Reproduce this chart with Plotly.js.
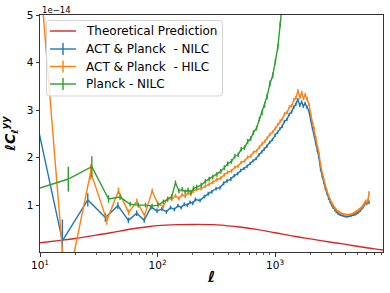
<!DOCTYPE html>
<html>
<head>
<meta charset="utf-8">
<script src="https://cdn.plot.ly/plotly-3.0.1.min.js"></script>
<style>html,body{margin:0;padding:0;background:#fff;}#chart{width:390px;height:293px;}</style>
</head>
<body>
<div id="chart"></div>
<script>
// ---- data (values in units of 1e-14) ----
const ell_theory = [10, 15, 20, 30, 40, 60, 80, 100, 150, 200, 300, 400, 500, 700, 1000, 1500, 2000, 3000, 4000, 5000, 6000, 7000, 8500];
const cl_theory  = [0.21, 0.26, 0.30, 0.37, 0.42, 0.50, 0.54, 0.57, 0.59, 0.595, 0.59, 0.565, 0.54, 0.49, 0.42, 0.34, 0.29, 0.22, 0.175, 0.135, 0.105, 0.08, 0.055];

const ell_act_nilc = [5, 15.5, 25.5, 36, 46, 56.5, 66.5, 77, 88, 99,
  109, 119, 129, 139, 149, 159, 169, 179, 189, 199,
  210, 230, 250, 270, 290, 315, 340, 365, 390, 420,
  450, 480, 510, 545, 580, 615, 650, 690, 730, 770,
  810, 850, 900, 950, 1000, 1050, 1100, 1150, 1200, 1260,
  1320, 1380, 1440, 1500, 1560, 1620, 1680, 1740, 1800, 1870,
  1940, 2010, 2080, 2150, 2220, 2290, 2360, 2440, 2520, 2600,
  2680, 2760, 2850, 2940, 3030, 3120, 3220, 3320, 3420, 3520,
  3620, 3730, 3840, 3950, 4060, 4180, 4300, 4420, 4540, 4660,
  4790, 4920, 5050, 5180, 5320, 5460, 5600, 5740, 5880, 6020,
  6160, 6300];
const cl_act_nilc = [5.9, 0.25, 1.11, 0.74, 0.99, 0.68, 0.83, 0.68, 0.96, 0.88,
  0.92, 0.86, 0.95, 0.91, 0.99, 0.95, 1.02, 1.0, 1.06, 1.04,
  1.12, 1.10, 1.18, 1.24, 1.28, 1.35, 1.37, 1.46, 1.51, 1.55,
  1.62, 1.66, 1.73, 1.77, 1.82, 1.88, 1.93, 1.98, 2.06, 2.12,
  2.18, 2.24, 2.32, 2.38, 2.47, 2.53, 2.61, 2.66, 2.76, 2.8,
  2.91, 2.96, 3.06, 3.12, 3.22, 3.1, 3.17, 3.08, 3.14, 3.06,
  2.98, 2.78, 2.62, 2.5, 2.3, 2.15, 2.0, 1.75, 1.6, 1.47,
  1.35, 1.25, 1.14, 1.07, 1.0, 0.95, 0.9, 0.86, 0.83, 0.81,
  0.79, 0.78, 0.77, 0.76, 0.76, 0.76, 0.77, 0.77, 0.79, 0.79,
  0.81, 0.83, 0.84, 0.87, 0.89, 0.93, 0.96, 1.0, 1.05, 1.03,
  1.08, 1.06];
const err_act_nilc = [1.2, 0.45, 0.14, 0.09, 0.07, 0.06, 0.06, 0.05, 0.05, 0.05,
  0.04, 0.04, 0.04, 0.04, 0.04, 0.04, 0.04, 0.04, 0.04, 0.04,
  0.04, 0.04, 0.04, 0.04, 0.04, 0.04, 0.04, 0.04, 0.04, 0.04,
  0.035, 0.035, 0.035, 0.035, 0.035, 0.035, 0.035, 0.035, 0.035, 0.035,
  0.035, 0.035, 0.035, 0.035, 0.035, 0.035, 0.035, 0.035, 0.035, 0.035,
  0.035, 0.035, 0.035, 0.035, 0.035, 0.035, 0.035, 0.035, 0.035, 0.035,
  0.03, 0.03, 0.03, 0.03, 0.03, 0.03, 0.03, 0.03, 0.03, 0.03,
  0.03, 0.03, 0.03, 0.03, 0.03, 0.03, 0.03, 0.03, 0.03, 0.03,
  0.02, 0.02, 0.02, 0.02, 0.02, 0.02, 0.02, 0.02, 0.02, 0.02,
  0.03, 0.03, 0.03, 0.03, 0.03, 0.03, 0.03, 0.03, 0.03, 0.03,
  0.04, 0.04];

const ell_act_hilc = [5.4, 16.6, 27, 37, 46.5, 56.7, 66.7, 77.5, 90, 100.5,
  112, 122, 132, 142, 152, 162, 172, 182, 192, 202,
  215, 235, 255, 275, 295, 320, 345, 370, 395, 425,
  455, 485, 515, 550, 585, 620, 655, 695, 735, 775,
  815, 855, 905, 955, 1005, 1055, 1105, 1155, 1205, 1265,
  1325, 1385, 1445, 1505, 1565, 1625, 1685, 1745, 1805, 1875,
  1945, 2015, 2085, 2155, 2225, 2295, 2365, 2445, 2525, 2605,
  2685, 2765, 2855, 2945, 3035, 3125, 3225, 3325, 3425, 3525,
  3625, 3735, 3845, 3955, 4065, 4185, 4305, 4425, 4545, 4665,
  4795, 4925, 5055, 5185, 5325, 5465, 5605, 5745, 5885, 6025,
  6165, 6305];
const cl_act_hilc = [14, -0.85, 1.7, 0.68, 1.3, 0.85, 1.08, 0.78, 1.3, 1.03,
  0.97, 1.15, 1.12, 1.2, 1.14, 1.22, 1.19, 1.26, 1.23, 1.3,
  1.33, 1.35, 1.4, 1.44, 1.48, 1.54, 1.57, 1.64, 1.69, 1.72,
  1.8, 1.82, 1.9, 1.93, 2.01, 2.03, 2.11, 2.14, 2.22, 2.29,
  2.34, 2.41, 2.49, 2.54, 2.62, 2.7, 2.77, 2.82, 2.92, 2.95,
  3.07, 3.09, 3.22, 3.26, 3.41, 3.26, 3.37, 3.24, 3.33, 3.24,
  3.12, 2.9, 2.72, 2.62, 2.42, 2.22, 2.08, 1.82, 1.66, 1.53,
  1.4, 1.3, 1.19, 1.11, 1.05, 0.99, 0.94, 0.9, 0.87, 0.85,
  0.83, 0.82, 0.81, 0.8, 0.8, 0.8, 0.8, 0.81, 0.82, 0.83,
  0.85, 0.87, 0.88, 0.91, 0.93, 0.96, 0.99, 1.03, 1.09, 1.06,
  1.1, 1.26];
const err_act_hilc = [2.0, 0.5, 0.16, 0.09, 0.07, 0.06, 0.06, 0.05, 0.05, 0.05,
  0.04, 0.04, 0.04, 0.04, 0.04, 0.04, 0.04, 0.04, 0.04, 0.04,
  0.04, 0.04, 0.04, 0.04, 0.04, 0.04, 0.04, 0.04, 0.04, 0.04,
  0.035, 0.035, 0.035, 0.035, 0.035, 0.035, 0.035, 0.035, 0.035, 0.035,
  0.035, 0.035, 0.035, 0.035, 0.035, 0.035, 0.035, 0.035, 0.035, 0.035,
  0.035, 0.035, 0.035, 0.035, 0.035, 0.035, 0.035, 0.035, 0.035, 0.035,
  0.03, 0.03, 0.03, 0.03, 0.03, 0.03, 0.03, 0.03, 0.03, 0.03,
  0.03, 0.03, 0.03, 0.03, 0.03, 0.03, 0.03, 0.03, 0.03, 0.03,
  0.02, 0.02, 0.02, 0.02, 0.02, 0.02, 0.02, 0.02, 0.02, 0.02,
  0.03, 0.03, 0.03, 0.03, 0.03, 0.03, 0.03, 0.03, 0.03, 0.03,
  0.04, 0.04];

const ell_planck_nilc = [6.6, 17.4, 27.6, 38.3, 48, 58.5, 68.5, 79, 90, 101,
  112, 122, 132, 142, 152, 162, 172, 182, 192, 202,
  215, 235, 255, 275, 295, 320, 345, 370, 395, 425,
  455, 485, 515, 550, 585, 620, 655, 695, 735, 775,
  815, 855, 905, 955, 1005, 1055, 1105, 1155, 1205, 1265,
  1325, 1385];
const cl_planck_nilc = [1.22, 1.55, 1.81, 1.13, 1.17, 1.02, 1.0, 1.0, 0.98, 1.0,
  1.07, 1.12, 1.18, 1.47, 1.3, 1.33, 1.28, 1.32, 1.27, 1.35,
  1.38, 1.42, 1.5, 1.55, 1.59, 1.65, 1.71, 1.79, 1.87, 1.92,
  2.03, 2.06, 2.18, 2.21, 2.34, 2.4, 2.53, 2.62, 2.81, 2.94,
  3.11, 3.29, 3.56, 3.73, 4.02, 4.33, 4.8, 5.2, 5.6, 6.1,
  6.7, 7.3];
const err_planck_nilc = [0.3, 0.26, 0.22, 0.08, 0.06, 0.05, 0.05, 0.05, 0.05, 0.05,
  0.05, 0.05, 0.05, 0.05, 0.05, 0.05, 0.05, 0.05, 0.05, 0.05,
  0.05, 0.05, 0.05, 0.05, 0.05, 0.05, 0.05, 0.05, 0.05, 0.05,
  0.05, 0.05, 0.05, 0.05, 0.05, 0.05, 0.05, 0.05, 0.05, 0.05,
  0.06, 0.06, 0.06, 0.06, 0.06, 0.06, 0.06, 0.06, 0.06, 0.06,
  0.06, 0.06];

const series_names = ['Theoretical Prediction', 'ACT & Planck\u00a0 - NILC', 'ACT & Planck\u00a0 - HILC', 'Planck - NILC'];
const x_tick_vals = [10, 100, 1000];
const x_tick_text = ['10<sup>1</sup>', '10<sup>2</sup>', '10<sup>3</sup>'];
const y_tick_vals = [1, 2, 3, 4, 5];

// ---- styling ----
const C_RED = '#d62728', C_BLUE = '#1f77b4', C_ORANGE = '#ff7f0e', C_GREEN = '#2ca02c';
const LW = 1.4;
const FONT = 'DejaVu Sans';
const W = 390, H = 293;
const M = {l: 40, r: 7, t: 15, b: 41};
const PW = W - M.l - M.r, PH = H - M.t - M.b;
const px = x => (x - M.l) / PW;         // pixel -> paper x
const py = y => (M.t + PH - y) / PH;    // pixel -> paper y

const minorVals = [];
for (let k = 1; k <= 3; k++) for (let m = 2; m <= 9; m++) minorVals.push(m * Math.pow(10, k));

function dataTrace(x, y, err, color) {
  return {
    x: x, y: y, type: 'scatter', mode: 'lines', showlegend: false,
    line: {color: color, width: LW},
    error_y: {type: 'data', array: err, visible: true, color: color, thickness: LW, width: 0},
    hoverinfo: 'skip'
  };
}

const traces = [
  {x: ell_theory, y: cl_theory, type: 'scatter', mode: 'lines', showlegend: false,
   line: {color: C_RED, width: LW, shape: 'spline'}},
  dataTrace(ell_act_nilc, cl_act_nilc, err_act_nilc, C_BLUE),
  dataTrace(ell_act_hilc, cl_act_hilc, err_act_hilc, C_ORANGE),
  dataTrace(ell_planck_nilc, cl_planck_nilc, err_planck_nilc, C_GREEN)
];

// ---- hand-built legend (box, line samples, error-bar crosses, labels) ----
const legColors = [C_RED, C_BLUE, C_ORANGE, C_GREEN];
const legRowsY = [31, 49, 66.5, 84];
const legendShapes = [];
const legendAnn = [];
(function () {
  const x0 = 46.5, x1 = 222.5, y0 = 20.5, y1 = 96, r = 3;
  const path = `M ${px(x0 + r)} ${py(y0)} L ${px(x1 - r)} ${py(y0)} Q ${px(x1)} ${py(y0)} ${px(x1)} ${py(y0 + r)} ` +
    `L ${px(x1)} ${py(y1 - r)} Q ${px(x1)} ${py(y1)} ${px(x1 - r)} ${py(y1)} L ${px(x0 + r)} ${py(y1)} ` +
    `Q ${px(x0)} ${py(y1)} ${px(x0)} ${py(y1 - r)} L ${px(x0)} ${py(y0 + r)} Q ${px(x0)} ${py(y0)} ${px(x0 + r)} ${py(y0)} Z`;
  legendShapes.push({type: 'path', xref: 'paper', yref: 'paper', path: path, layer: 'above',
    fillcolor: 'rgba(255,255,255,0.8)', line: {color: '#d3d3d3', width: 1}});
  series_names.forEach((name, i) => {
    const y = legRowsY[i];
    legendShapes.push({type: 'line', xref: 'paper', yref: 'paper', layer: 'above',
      x0: px(50), x1: px(76), y0: py(y), y1: py(y), line: {color: legColors[i], width: LW}});
    if (i > 0) {
      legendShapes.push({type: 'line', xref: 'paper', yref: 'paper', layer: 'above',
        x0: px(63), x1: px(63), y0: py(y - 6), y1: py(y + 6), line: {color: legColors[i], width: LW}});
    }
    legendAnn.push({text: name, xref: 'paper', yref: 'paper', x: px(83.5), y: py(y),
      xanchor: 'left', yanchor: 'middle', showarrow: false,
      font: {family: FONT, size: 12, color: '#000'}});
  });
})();

const axisCommon = {
  showline: true, mirror: true, linecolor: '#333', linewidth: 1,
  ticks: 'outside', ticklen: 3.5, tickwidth: 1, tickcolor: '#333',
  showgrid: false, zeroline: false,
  tickfont: {family: FONT, size: 10.5, color: '#000'}
};

const layout = {
  width: W, height: H,
  margin: {l: M.l, r: M.r, t: M.t, b: M.b, pad: 0},
  paper_bgcolor: '#fff', plot_bgcolor: '#fff',
  font: {family: FONT, color: '#000'},
  showlegend: false,
  xaxis: Object.assign({}, axisCommon, {
    type: 'log', range: [1, 3.918],
    tickmode: 'array', tickvals: x_tick_vals, ticktext: x_tick_text,
    minor: {tickmode: 'array', tickvals: minorVals, ticks: 'outside', ticklen: 2, tickwidth: 0.8, tickcolor: '#333'},
    title: {text: 'ℓ', font: {family: FONT, size: 15, weight: 'bold', style: 'italic', color: '#000'}, standoff: 1}
  }),
  yaxis: Object.assign({}, axisCommon, {
    range: [0.015, 5],
    tickmode: 'array', tickvals: y_tick_vals,
    title: {text: 'ℓC<sub>ℓ</sub><sup>yy</sup>', font: {family: FONT, size: 14, weight: 'bold', style: 'italic', color: '#000'}, standoff: 9}
  }),
  shapes: legendShapes,
  annotations: [{
    text: '1e\u221214', xref: 'paper', yref: 'paper', x: 0, y: 1, xanchor: 'left', yanchor: 'bottom',
    showarrow: false, font: {family: FONT, size: 8.5, color: '#000'}, yshift: -2
  }].concat(legendAnn)
};

Plotly.newPlot('chart', traces, layout, {staticPlot: true, displayModeBar: false});
</script>
</body>
</html>
